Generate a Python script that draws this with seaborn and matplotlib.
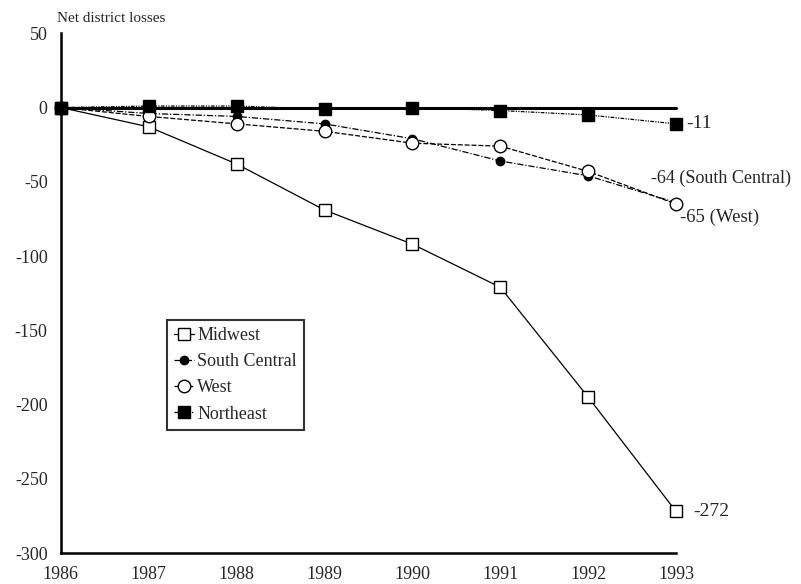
import numpy as np
import matplotlib
matplotlib.use("Agg")
import matplotlib.pyplot as plt
import seaborn as sns

# data
years = [1986, 1987, 1988, 1989, 1990, 1991, 1992, 1993]
midwest = [0, -13, -38, -69, -92, -121, -195, -272]
south_central = [0, -4, -6, -11, -21, -36, -46, -64]
west = [0, -6, -11, -16, -24, -26, -43, -65]
northeast = [0, 1, 1, -1, 0, -2, -5, -11]
zero_line = [0, 0, 0, 0, 0, 0, 0, 0]

end_labels = ['-272', '-64 (South Central)', '-65 (West)', '-11']

sns.set_style("white")
plt.rcParams['font.family'] = ['Liberation Serif', 'DejaVu Serif']
plt.rcParams['axes.unicode_minus'] = False

fig = plt.figure(figsize=(8.01, 5.84), dpi=100)
ax = fig.add_axes([0.076, 0.053, 0.768, 0.890])

# heavy reference line at zero
sns.lineplot(x=years, y=zero_line, color='black', linewidth=2.2, ax=ax, legend=False)

series = [
    ('Midwest', midwest, dict(marker='s', markerfacecolor='white', markersize=8, linestyle='-')),
    ('South Central', south_central, dict(marker='o', markerfacecolor='black', markersize=6, linestyle=(0, (5, 1.5, 1, 1.5)))),
    ('West', west, dict(marker='o', markerfacecolor='white', markersize=9, linestyle=(0, (4, 1.5)))),
    ('Northeast', northeast, dict(marker='s', markerfacecolor='black', markersize=8, linestyle=(0, (3, 1, 1, 1, 1, 1)))),
]
for name, vals, style in series:
    sns.lineplot(x=years, y=vals, color='black', linewidth=0.9, markeredgecolor='black',
                 markeredgewidth=1.0, ax=ax, label=name, **style)
for ln in ax.lines:
    ln.set_clip_on(False)

ax.set_xlim(1986, 1993)
ax.set_ylim(-300, 50)
ax.set_xticks(years)
ax.set_yticks(np.arange(-300, 51, 50))
ax.tick_params(axis='both', labelsize=13, length=6, width=1.2, color='black', direction='out')
for side in ['top', 'right']:
    ax.spines[side].set_visible(False)
for side in ['left', 'bottom']:
    ax.spines[side].set_color('black')
    ax.spines[side].set_linewidth(1.8)
ax.set_xlabel('')
ax.set_ylabel('')

# end-of-line value labels
ax.text(1993.2, midwest[-1], end_labels[0], fontsize=14, va='center', ha='left')
ax.text(1992.72, -48, end_labels[1], fontsize=13, va='center', ha='left')
ax.text(1993.05, -74, end_labels[2], fontsize=13.5, va='center', ha='left')
ax.text(1993.12, northeast[-1], end_labels[3], fontsize=14, va='center', ha='left')

fig.text(0.071, 0.968, 'Net district losses', fontsize=11, ha='left', va='center')

leg = ax.legend(loc='upper left', bbox_to_anchor=(0.172, 0.448), fontsize=13,
                frameon=True, fancybox=False, edgecolor='black', handlelength=1.1,
                handletextpad=0.2, borderpad=0.4, labelspacing=0.5, borderaxespad=0)
leg.get_frame().set_linewidth(1.5)
ax.patch.set_alpha(0)

fig.savefig('out.png', dpi=100)
